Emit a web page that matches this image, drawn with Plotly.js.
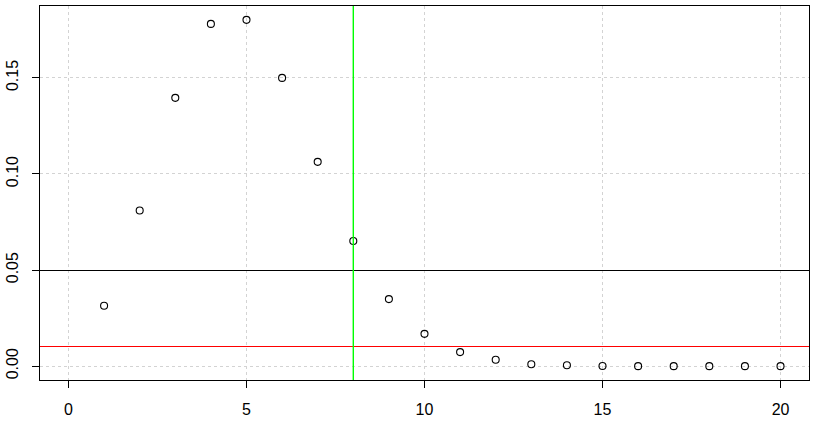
<!DOCTYPE html>
<html>
<head>
<meta charset="utf-8">
<script src="https://cdn.plot.ly/plotly-3.0.1.min.js"></script>
<style>html,body{margin:0;padding:0;background:#fff}#chart{width:814px;height:425px}
.shapelayer path{shape-rendering:crispEdges}
.shapelayer g[data-index="2"] path{shape-rendering:auto}</style>
</head>
<body>
<div id="chart"></div>
<script>
const xValues = [1,2,3,4,5,6,7,8,9,10,11,12,13,14,15,16,17,18,19,20];
const yValues = [0.0314,0.0810,0.1396,0.1781,0.1802,0.1500,0.1063,0.0651,0.0349,0.0168,0.0073,0.0033,0.0010,0.0005,0.0001,0.0000,0.0000,0.0000,0.0000,0.0000];
const xTicks = [0,5,10,15,20];
const yTicks = [0.00,0.05,0.10,0.15];
const yTickLabels = ["0.00","0.05","0.10","0.15"];
const hLines = [0.05, 0.01];
const hLineColors = ["#000000", "#FF0000"];
const vLine = 8;
const vLineColor = "#00FF00";

const xr = [0, 20], yr = [0, Math.max(...yValues)];
const xpad = (xr[1]-xr[0])*0.04, ypad = (yr[1]-yr[0])*0.04;

const shapes = hLines.map((v,i)=>({type:'line', xref:'paper', x0:0, x1:1, yref:'y', y0:v, y1:v,
  line:{color:hLineColors[i], width:1}, layer:'above'}));
shapes.push({type:'line', xref:'x', x0:vLine, x1:vLine, yref:'paper', y0:0, y1:1,
  line:{color:vLineColor, width:1.4}, layer:'above'});

const trace = {x:xValues, y:yValues, type:'scatter', mode:'markers',
  marker:{symbol:'circle-open', size:7, color:'#000', line:{width:1.1, color:'#000'}},
  cliponaxis:false, hoverinfo:'skip'};

const font = {family:'"Liberation Sans", Arial, sans-serif', size:16, color:'#000'};
const layout = {
  width:814, height:425,
  margin:{l:40, r:5, t:6, b:45},
  paper_bgcolor:'#fff', plot_bgcolor:'#fff',
  showlegend:false, font:font,
  xaxis:{range:[xr[0]-xpad, xr[1]+xpad], tickvals:xTicks, ticktext:xTicks.map(String),
    ticks:'outside', ticklen:7, tickwidth:1, tickcolor:'#000',
    showline:true, linecolor:'#000', linewidth:1, mirror:true,
    showgrid:true, gridcolor:'#D3D3D3', griddash:'dot', gridwidth:1,
    zeroline:false, ticklabelstandoff:8, tickfont:font},
  yaxis:{range:[yr[0]-ypad, yr[1]+ypad], tickvals:yTicks, ticktext:yTickLabels,
    ticks:'outside', ticklen:7, tickwidth:1, tickcolor:'#000', tickangle:-90,
    showline:true, linecolor:'#000', linewidth:1, mirror:true,
    showgrid:true, gridcolor:'#D3D3D3', griddash:'dot', gridwidth:1,
    zeroline:false, ticklabelstandoff:8, tickfont:font},
  shapes:shapes
};
Plotly.newPlot('chart', [trace], layout, {staticPlot:true, displayModeBar:false});
</script>
</body>
</html>
